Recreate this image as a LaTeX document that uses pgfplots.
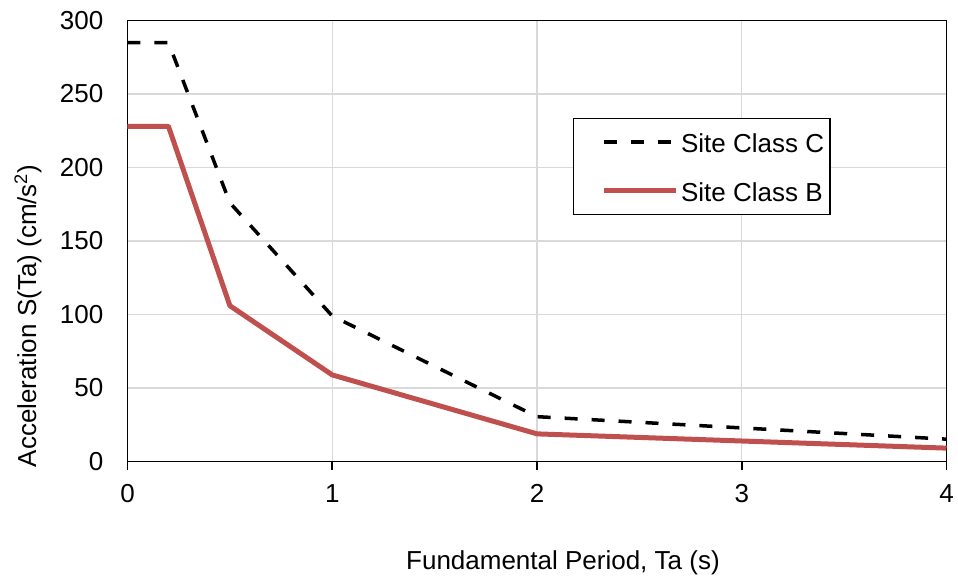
\documentclass[border=0pt]{standalone}
\usepackage{pgfplots}
\pgfplotsset{compat=1.18}
\usepackage{fontspec}
\setmainfont{Liberation Sans}
\definecolor{redline}{HTML}{C0504D}
\definecolor{gridgray}{HTML}{D9D9D9}
\begin{document}
\begin{tikzpicture}
\useasboundingbox (-127.5pt,-114.5pt) rectangle (830.5pt,461.5pt);
\begin{axis}[
  scale only axis,
  width=819pt, height=441pt,
  xmin=0, xmax=4, ymin=0, ymax=300,
  xtick={0,1,2,3,4}, ytick={0,50,100,150,200,250,300},
  xtick pos=bottom, ytick pos=left,
  tick align=outside,
  xtick style={black, line width=1.5pt},
  major tick length=8pt,
  ytick style={draw=none},
  grid=major,
  major grid style={gridgray, line width=1.3pt},
  axis line style={black, line width=1.6pt},
  /pgf/number format/assume math mode=true,
  tick label style={font=\fontsize{26}{31}\selectfont, inner sep=0pt},
  yticklabel style={xshift=-16pt},
  xticklabel style={yshift=-15pt},
  label style={font=\fontsize{26}{31}\selectfont},
  xlabel={Fundamental Period, Ta (s)},
  ylabel={Acceleration S(Ta) (cm/s\textsuperscript{2})},
  xlabel style={at={(axis description cs:0.5317,-0.2438)}, anchor=base, inner sep=0pt},
  ylabel style={at={(axis description cs:-0.1215,0.33)}, anchor=center, inner sep=0pt},
  legend cell align=left,
  legend style={at={(rel axis cs:0.5439,0.7795)}, anchor=north west,
    draw=black, line width=1.3pt, fill=white,
    inner xsep=6pt, inner ysep=13pt,
    font=\fontsize{26}{31}\selectfont,
    nodes={inner sep=0pt, text height=19pt, text depth=0pt},
    row sep=27pt,
    /tikz/every odd column/.append style={column sep=3pt}},
  legend image code/.code={%
    \path[draw=none] (0pt,0pt) rectangle (24pt,12pt);
    \draw[#1] (24pt,1.5pt) -- (96pt,1.5pt);},
]
\addplot[black, line width=3.5pt, dash pattern=on 13pt off 14pt, line cap=butt] coordinates {
  (0,285) (0.2,285) (0.5,176) (1,99) (2,30.5) (4,15.2)
};
\addlegendentry{Site Class C}
\addplot[redline, line width=5pt, line join=round] coordinates {
  (0,228) (0.2,228) (0.5,106) (1,58.9) (2,18.8) (4,9.1)
};
\addlegendentry{Site Class B}
\end{axis}
\end{tikzpicture}
\end{document}
